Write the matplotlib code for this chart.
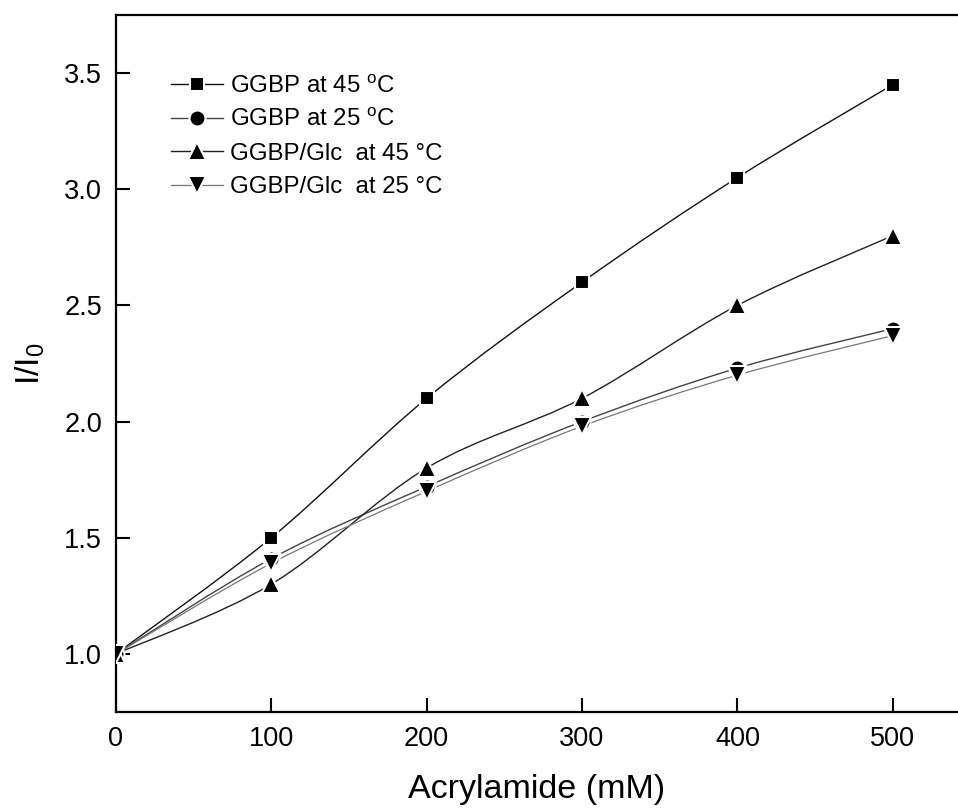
import numpy as np
import matplotlib
matplotlib.use('Agg')
import matplotlib.pyplot as plt
from matplotlib.path import Path
from matplotlib.patches import PathPatch
from matplotlib.lines import Line2D

plt.rcParams['font.family'] = ['Liberation Sans', 'DejaVu Sans']
plt.rcParams['mathtext.default'] = 'regular'

#%% data
acrylamide = [0, 100, 200, 300, 400, 500]  # mM
ggbp_45 = [1.0, 1.50, 2.10, 2.60, 3.05, 3.45]
ggbp_25 = [1.0, 1.41, 1.72, 2.00, 2.23, 2.40]
glc_45 = [1.0, 1.30, 1.80, 2.10, 2.50, 2.80]
glc_25 = [1.0, 1.39, 1.70, 1.98, 2.20, 2.37]

labels = ['GGBP at 45 $^{o}$C', 'GGBP at 25 $^{o}$C',
          'GGBP/Glc  at 45 \u00b0C', 'GGBP/Glc  at 25 \u00b0C']


def spline_path(x, y):
    # smooth curve through the points (Catmull-Rom as cubic Bezier)
    p = np.column_stack([x, y]).astype(float)
    n = len(p)
    verts = [p[0]]
    codes = [Path.MOVETO]
    for i in range(n - 1):
        pm = p[i - 1] if i > 0 else p[i]
        pp = p[i + 2] if i + 2 < n else p[i + 1]
        c1 = p[i] + (p[i + 1] - pm) / 6.0
        c2 = p[i + 1] - (pp - p[i]) / 6.0
        verts += [c1, c2, p[i + 1]]
        codes += [Path.CURVE4] * 3
    return Path(verts, codes)


fig = plt.figure(figsize=(9.58, 8.1), dpi=100)
ax = fig.add_axes([0.121, 0.121, 0.879, 0.8605])

series = [
    (ggbp_45, 's', 10.5, '#111111', 1.0),
    (ggbp_25, 'o', 11.5, '#444444', 1.0),
    (glc_45, '^', 13, '#222222', 1.0),
    (glc_25, 'v', 13, '#777777', 0.9),
]

handles = []
for (vals, mk, ms, col, lw), lab in zip(series, labels):
    ax.add_patch(PathPatch(spline_path(acrylamide, vals), facecolor='none',
                           edgecolor=col, lw=lw, zorder=2))
    handles.append(Line2D([], [], color=col, lw=lw, marker=mk, ms=ms,
                          mfc='k', mec='white', mew=1.5, label=lab))
for vals, mk, ms, col, lw in series:
    ax.plot(acrylamide, vals, ls='none', marker=mk, ms=ms, mfc='k',
            mec='white', mew=1.5, zorder=3)

ax.set_xlim(0, 542)
ax.set_ylim(0.75, 3.75)
ax.set_xticks(np.arange(0, 501, 100))
ax.set_yticks(np.arange(1.0, 3.51, 0.5))
ax.yaxis.set_major_formatter(matplotlib.ticker.FormatStrFormatter('%.1f'))
ax.tick_params(direction='in', length=10, width=1.5, labelsize=19.5, pad=10)
for s in ['left', 'bottom', 'top']:
    ax.spines[s].set_linewidth(1.6)
ax.spines['right'].set_visible(False)

ax.set_xlabel('Acrylamide (mM)', fontsize=24.5, labelpad=16)
ax.set_ylabel('I/I$_0$', fontsize=24.5, labelpad=12)

ax.legend(handles=handles, loc='upper left', bbox_to_anchor=(0.04, 0.944),
          frameon=False, fontsize=17.3, handlelength=2.15, handletextpad=0.3,
          labelspacing=0.47, numpoints=1)

fig.savefig('out.png', dpi=100)
